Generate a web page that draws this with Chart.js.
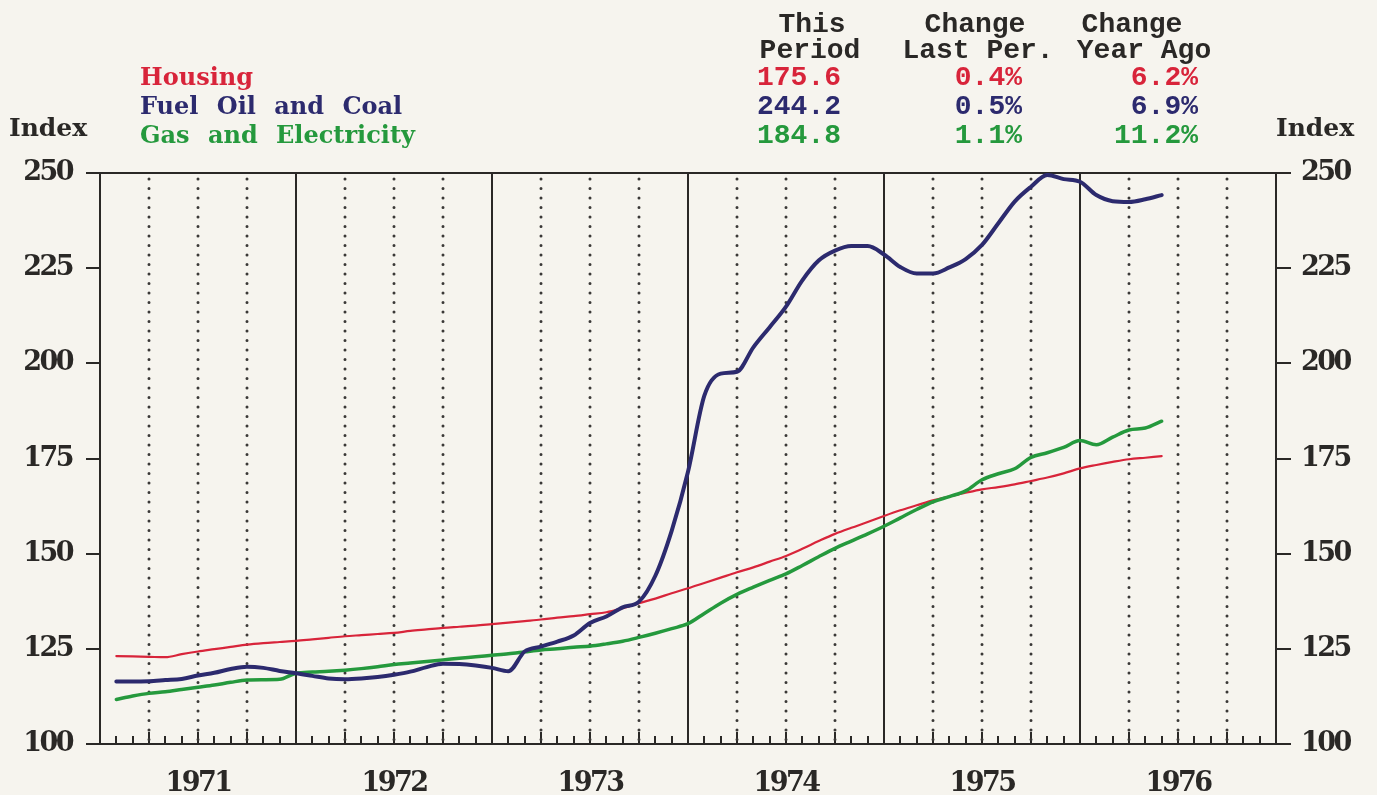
<!DOCTYPE html>
<html>
<head>
<meta charset="utf-8">
<style>
  html, body { margin: 0; padding: 0; background: #f6f4ee; }
  #wrap { position: relative; width: 1377px; height: 795px; }
</style>
</head>
<body>
<div id="wrap"><canvas id="cpiChart"></canvas></div>

<script src="https://cdn.jsdelivr.net/npm/chart.js"></script>

<script>
    // monthly index values, Feb 1971 .. Jun 1976
    const housing = [
        123.1, 123.0, 122.9, 122.8, 123.6, 124.3, 124.9, 125.5, 126.1, 126.5, 126.8, 127.1,
        127.5, 127.9, 128.3, 128.6, 128.9, 129.2, 129.7, 130.1, 130.5, 130.8, 131.1, 131.5,
        131.9, 132.3, 132.7, 133.2, 133.6, 134.1, 134.6, 135.7, 137.0, 138.2, 139.6, 140.9,
        142.3, 143.7, 145.1, 146.4, 147.9, 149.4, 151.3, 153.3, 155.2, 156.8, 158.3, 159.9,
        161.4, 162.7, 164.0, 165.0, 166.0, 166.9, 167.5, 168.2, 169.1, 170.0, 171.1, 172.4,
        173.3, 174.1, 174.8, 175.2, 175.6
    ]
    const fuelOilCoal = [
        116.4, 116.4, 116.5, 116.8, 117.1, 118.0, 118.7, 119.7, 120.3, 120.0, 119.2, 118.6,
        117.9, 117.2, 117.0, 117.2, 117.6, 118.2, 119.0, 120.2, 121.1, 121.0, 120.6, 120.0,
        119.1, 124.3, 125.6, 126.9, 128.5, 131.8, 133.5, 135.9, 137.4, 144.2, 156.0, 171.5,
        191.5, 197.3, 197.8, 204.2, 209.5, 214.9, 221.8, 227.0, 229.6, 230.8, 230.8, 228.6,
        225.3, 223.6, 223.6, 225.2, 227.4, 231.1, 236.8, 242.5, 246.4, 249.5, 248.4, 247.7,
        244.2, 242.6, 242.4, 243.1, 244.2
    ]
    const gasElectricity = [
        111.7, 112.6, 113.3, 113.7, 114.3, 114.9, 115.5, 116.2, 116.8, 116.9, 117.0, 118.6,
        118.9, 119.1, 119.4, 119.8, 120.3, 120.9, 121.3, 121.7, 122.1, 122.5, 122.9, 123.3,
        123.7, 124.2, 124.7, 125.0, 125.4, 125.7, 126.3, 127.0, 128.0, 129.1, 130.3, 131.6,
        134.3, 137.0, 139.3, 141.2, 143.0, 144.7, 146.9, 149.2, 151.4, 153.3, 155.2, 157.2,
        159.4, 161.6, 163.6, 165.0, 166.5, 169.4, 171.0, 172.3, 175.3, 176.5, 177.9, 179.7,
        178.6, 180.6, 182.5, 183.0, 184.8
    ]
    const firstMonth = 1   // months after the start of 1971
    const yearLabels = ['1971', '1972', '1973', '1974', '1975', '1976']
    const yTicks = [100, 125, 150, 175, 200, 225, 250]

    const seriesNames = ['Housing', 'Fuel Oil and Coal', 'Gas and Electricity']
    const thisPeriod = ['175.6', '244.2', '184.8']
    const changeLastPer = ['0.4%', '0.5%', '1.1%']
    const changeYearAgo = ['6.2%', '6.9%', '11.2%']

    const red = '#d8243a', navy = '#2c2a6e', green = '#25993d', ink = '#2a2826'
    const serif = "'DejaVu Serif', serif"
    const mono = "'Liberation Mono', monospace"

    const toPoints = vals => vals.map((v, i) => ({ x: firstMonth + i, y: v }))

    const paper = {
        id: 'paper',
        beforeDraw: (chart) => {
            const { ctx, width, height } = chart
            ctx.fillStyle = '#f6f4ee'
            ctx.fillRect(0, 0, width, height)
            ctx.letterSpacing = '-2.5px'   // tight tick figures
        }
    }

    // year lines, dotted quarter lines, month ticks, top edge
    const frame = {
        id: 'frame',
        beforeDatasetsDraw: (chart) => {
            const { ctx, chartArea: a, scales: { x } } = chart
            ctx.save()
            ctx.strokeStyle = ink
            ctx.lineWidth = 2
            ctx.beginPath()
            for (let m = 12; m < 72; m += 12) {
                const px = Math.round(x.getPixelForValue(m))
                ctx.moveTo(px, a.top); ctx.lineTo(px, a.bottom)
            }
            ctx.moveTo(a.left, a.top); ctx.lineTo(a.right, a.top)
            ctx.stroke()

            ctx.beginPath()
            for (let m = 1; m < 72; m++) {
                if (m % 12 === 0) continue
                const px = Math.round(x.getPixelForValue(m))
                const len = m % 3 === 0 ? 12 : 8
                ctx.moveTo(px, a.bottom); ctx.lineTo(px, a.bottom - len)
            }
            ctx.stroke()

            ctx.setLineDash([0, 9.5])
            ctx.lineCap = 'round'
            ctx.lineWidth = 3
            ctx.strokeStyle = '#3a3836'
            ctx.beginPath()
            for (let m = 3; m < 72; m += 3) {
                if (m % 12 === 0) continue
                const px = Math.round(x.getPixelForValue(m))
                ctx.moveTo(px, a.top + 6); ctx.lineTo(px, a.bottom)
            }
            ctx.stroke()
            ctx.restore()
        }
    }

    // legend names, table and axis titles
    const header = {
        id: 'header',
        afterDraw: (chart) => {
            const { ctx } = chart
            const colors = [red, navy, green]
            const rows = [85, 114, 143]
            ctx.save()
            ctx.textBaseline = 'alphabetic'
            ctx.letterSpacing = '0px'

            ctx.font = 'bold 25px ' + serif
            ctx.fillStyle = ink
            ctx.textAlign = 'left'
            ctx.fillText('Index', 9, 136)
            ctx.fillText('Index', 1276, 136)

            ctx.font = 'bold 24px ' + serif
            ctx.wordSpacing = '10px'
            seriesNames.forEach((n, i) => {
                ctx.fillStyle = colors[i]
                ctx.fillText(n, 140, rows[i])
            })
            ctx.wordSpacing = '0px'

            ctx.font = 'bold 28px ' + mono
            ctx.fillStyle = ink
            ctx.textAlign = 'center'
            ctx.fillText('This', 812, 32)
            ctx.fillText('Period', 810, 58)
            ctx.fillText('Change', 975, 32)
            ctx.fillText('Last Per.', 978, 58)
            ctx.fillText('Change', 1132, 32)
            ctx.fillText('Year Ago', 1144, 58)

            rows.forEach((y, i) => {
                ctx.fillStyle = colors[i]
                ctx.textAlign = 'left'
                ctx.fillText(thisPeriod[i], 757, y)
                ctx.textAlign = 'right'
                ctx.fillText(changeLastPer[i], 1022, y)
                ctx.fillText(changeYearAgo[i], 1198, y)
            })
            ctx.restore()
        }
    }

    const yAxis = (position, width, tickLen, pad) => ({
        type: 'linear',
        position: position,
        min: 100,
        max: 250,
        afterBuildTicks: s => { s.ticks = yTicks.map(v => ({ value: v })) },
        afterFit: s => { s.width = width },
        grid: { drawOnChartArea: false, drawTicks: true, tickLength: tickLen, color: ink, lineWidth: 2 },
        border: { display: true, color: ink, width: 2 },
        ticks: { color: ink, padding: pad, font: { family: serif, size: 27, weight: 'bold' } }
    })

    var ctx = document.getElementById('cpiChart')
    var cpiChart = new Chart(ctx, {
        type: 'line',
        data: {
            datasets: [
                { label: seriesNames[0], data: toPoints(housing), borderColor: red, borderWidth: 2.2, order: 3 },
                { label: seriesNames[1], data: toPoints(fuelOilCoal), borderColor: navy, borderWidth: 4, order: 1 },
                { label: seriesNames[2], data: toPoints(gasElectricity), borderColor: green, borderWidth: 3.5, order: 2 }
            ]
        },
        options: {
            responsive: true,
            maintainAspectRatio: false,
            animation: false,
            layout: { padding: { top: 173, left: 0, right: 0, bottom: 0 } },
            elements: {
                point: { radius: 0 },
                line: { cubicInterpolationMode: 'monotone', borderCapStyle: 'round', borderJoinStyle: 'round' }
            },
            plugins: { legend: { display: false }, tooltip: { enabled: false } },
            scales: {
                x: {
                    type: 'linear',
                    min: 0,
                    max: 72,
                    afterBuildTicks: s => { s.ticks = yearLabels.map((_, i) => ({ value: 6 + 12 * i })) },
                    afterFit: s => { s.height = 51 },
                    grid: { display: false },
                    border: { display: true, color: ink, width: 2 },
                    ticks: {
                        color: ink,
                        padding: 16,
                        maxRotation: 0,
                        font: { family: serif, size: 27, weight: 'bold' },
                        callback: v => yearLabels[(v - 6) / 12]
                    }
                },
                y: yAxis('left', 100, 14, 14),
                y2: yAxis('right', 101, 15, 10)
            }
        },
        plugins: [paper, frame, header]
    })
</script>
</body>
</html>
